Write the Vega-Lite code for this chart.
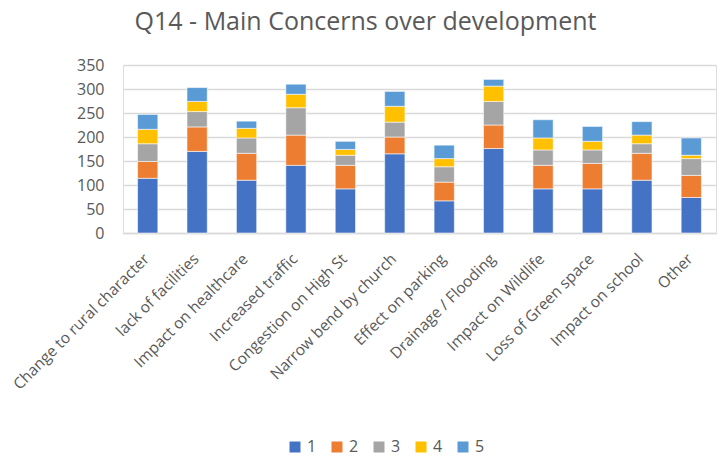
{
  "$schema": "https://vega.github.io/schema/vega-lite/v6.json",
  "width": 593,
  "height": 168,
  "autosize": {"type": "none"},
  "padding": {"left": 123, "top": 65, "right": 4, "bottom": 224},
  "background": "#ffffff",
  "title": {
    "text": "Q14 - Main Concerns over development",
    "font": "Open Sans",
    "fontSize": 25,
    "fontWeight": "normal",
    "color": "#595959",
    "anchor": "middle",
    "dx": -54,
    "offset": 22
  },
  "data": {
    "values": [
      {"c": "Change to rural character", "s": "1", "v": 114},
      {"c": "Change to rural character", "s": "2", "v": 35},
      {"c": "Change to rural character", "s": "3", "v": 37},
      {"c": "Change to rural character", "s": "4", "v": 30},
      {"c": "Change to rural character", "s": "5", "v": 31},
      {"c": "lack of facilities", "s": "1", "v": 170},
      {"c": "lack of facilities", "s": "2", "v": 51},
      {"c": "lack of facilities", "s": "3", "v": 32},
      {"c": "lack of facilities", "s": "4", "v": 21},
      {"c": "lack of facilities", "s": "5", "v": 29},
      {"c": "Impact on healthcare", "s": "1", "v": 110},
      {"c": "Impact on healthcare", "s": "2", "v": 56},
      {"c": "Impact on healthcare", "s": "3", "v": 32},
      {"c": "Impact on healthcare", "s": "4", "v": 20},
      {"c": "Impact on healthcare", "s": "5", "v": 15},
      {"c": "Increased traffic", "s": "1", "v": 141},
      {"c": "Increased traffic", "s": "2", "v": 63},
      {"c": "Increased traffic", "s": "3", "v": 57},
      {"c": "Increased traffic", "s": "4", "v": 28},
      {"c": "Increased traffic", "s": "5", "v": 21},
      {"c": "Congestion on High St", "s": "1", "v": 92},
      {"c": "Congestion on High St", "s": "2", "v": 49},
      {"c": "Congestion on High St", "s": "3", "v": 21},
      {"c": "Congestion on High St", "s": "4", "v": 12},
      {"c": "Congestion on High St", "s": "5", "v": 17},
      {"c": "Narrow bend by church", "s": "1", "v": 165},
      {"c": "Narrow bend by church", "s": "2", "v": 35},
      {"c": "Narrow bend by church", "s": "3", "v": 31},
      {"c": "Narrow bend by church", "s": "4", "v": 33},
      {"c": "Narrow bend by church", "s": "5", "v": 31},
      {"c": "Effect on parking", "s": "1", "v": 67},
      {"c": "Effect on parking", "s": "2", "v": 39},
      {"c": "Effect on parking", "s": "3", "v": 32},
      {"c": "Effect on parking", "s": "4", "v": 17},
      {"c": "Effect on parking", "s": "5", "v": 28},
      {"c": "Drainage / Flooding", "s": "1", "v": 176},
      {"c": "Drainage / Flooding", "s": "2", "v": 49},
      {"c": "Drainage / Flooding", "s": "3", "v": 49},
      {"c": "Drainage / Flooding", "s": "4", "v": 32},
      {"c": "Drainage / Flooding", "s": "5", "v": 14},
      {"c": "Impact on Wildlife", "s": "1", "v": 92},
      {"c": "Impact on Wildlife", "s": "2", "v": 49},
      {"c": "Impact on Wildlife", "s": "3", "v": 32},
      {"c": "Impact on Wildlife", "s": "4", "v": 25},
      {"c": "Impact on Wildlife", "s": "5", "v": 38},
      {"c": "Loss of Green space", "s": "1", "v": 92},
      {"c": "Loss of Green space", "s": "2", "v": 53},
      {"c": "Loss of Green space", "s": "3", "v": 28},
      {"c": "Loss of Green space", "s": "4", "v": 18},
      {"c": "Loss of Green space", "s": "5", "v": 31},
      {"c": "Impact on school", "s": "1", "v": 110},
      {"c": "Impact on school", "s": "2", "v": 56},
      {"c": "Impact on school", "s": "3", "v": 20},
      {"c": "Impact on school", "s": "4", "v": 18},
      {"c": "Impact on school", "s": "5", "v": 28},
      {"c": "Other", "s": "1", "v": 74},
      {"c": "Other", "s": "2", "v": 46},
      {"c": "Other", "s": "3", "v": 35},
      {"c": "Other", "s": "4", "v": 7},
      {"c": "Other", "s": "5", "v": 36}
    ]
  },
  "mark": {"type": "bar", "stroke": "#ffffff", "strokeWidth": 0.8, "strokeOpacity": 0.7},
  "encoding": {
    "x": {
      "field": "c",
      "type": "nominal",
      "sort": null,
      "scale": {"paddingInner": 0.59, "paddingOuter": 0.295},
      "axis": {
        "title": null,
        "labelAngle": -45,
        "labelFont": "Open Sans",
        "labelFontSize": 15.5,
        "labelColor": "#595959",
        "labelPadding": 18,
        "labelOffset": -6,
        "ticks": false,
        "domainColor": "#d9d9d9",
        "domainWidth": 1.5,
        "labelLimit": 300
      }
    },
    "y": {
      "field": "v",
      "type": "quantitative",
      "aggregate": "sum",
      "stack": "zero",
      "scale": {"domain": [0, 350], "nice": false},
      "axis": {
        "title": null,
        "values": [0, 50, 100, 150, 200, 250, 300, 350],
        "labelFont": "Open Sans",
        "labelFontSize": 16,
        "labelColor": "#595959",
        "labelPadding": 19,
        "ticks": false,
        "domain": false,
        "gridColor": "#d9d9d9",
        "gridWidth": 1.5
      }
    },
    "color": {
      "field": "s",
      "type": "nominal",
      "scale": {"domain": ["1", "2", "3", "4", "5"], "range": ["#4472C4", "#ED7D31", "#A5A5A5", "#FFC000", "#5B9BD5"]},
      "legend": {
        "title": null,
        "orient": "none",
        "direction": "horizontal",
        "legendX": 164,
        "legendY": 374,
        "symbolType": "square",
        "symbolSize": 121,
        "symbolStrokeWidth": 0,
        "labelFont": "Open Sans",
        "labelFontSize": 16,
        "labelColor": "#595959",
        "labelOffset": 4,
        "columnPadding": 12
      }
    },
    "order": {"field": "s", "type": "ordinal", "sort": "ascending"}
  }
}
